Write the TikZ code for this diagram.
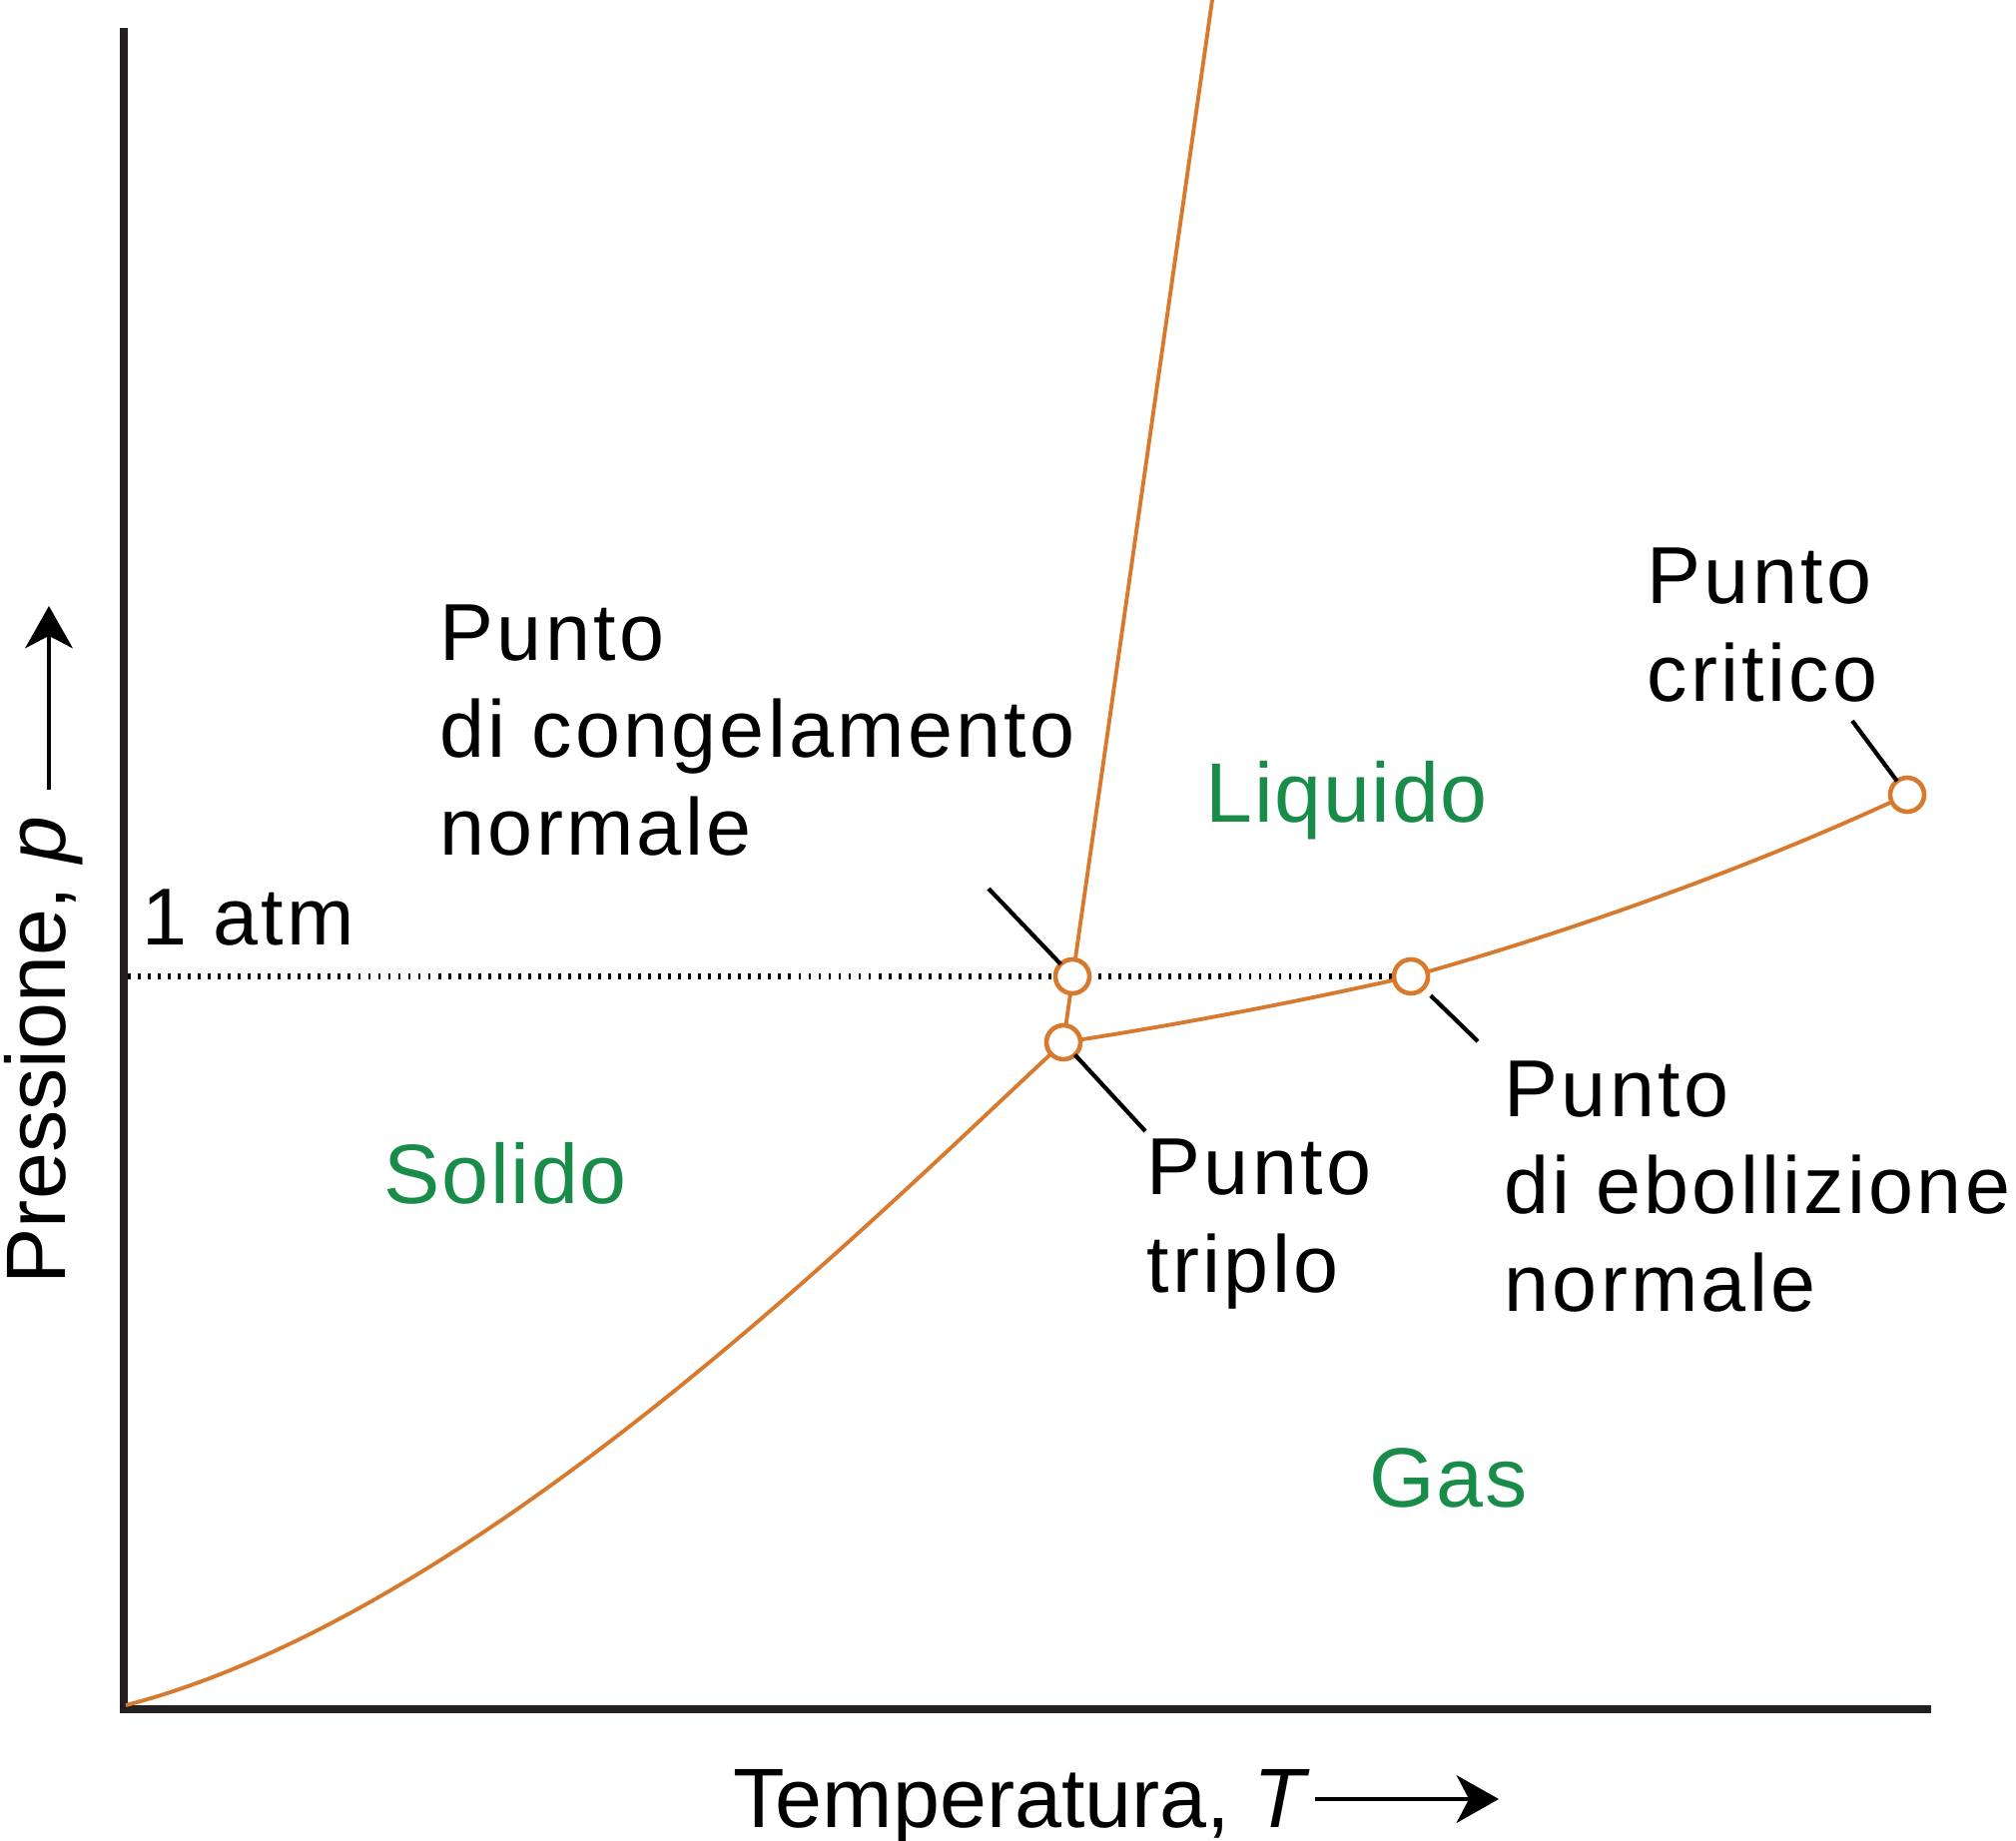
\documentclass[tikz,border=0pt]{standalone}
\usepackage{fontspec}
\setmainfont{Liberation Sans}
\newfontfamily\lblfont{Liberation Sans}[LetterSpace=4]
\newfontfamily\regfont{Liberation Sans}[LetterSpace=2]
\usetikzlibrary{arrows.meta}
\definecolor{phor}{RGB}{216,122,46}
\definecolor{phgr}{RGB}{26,140,74}
\definecolor{axk}{RGB}{35,31,32}
\begin{document}
\begin{tikzpicture}[x=0.01cm,y=-0.01cm,
  ptlab/.style={anchor=base west, align=left, inner sep=0, font=\lblfont\fontsize{23}{27.6}\selectfont},
  region/.style={anchor=base west, inner sep=0, text=phgr, font=\regfont\fontsize{24}{28}\selectfont},
  axlab/.style={anchor=base west, inner sep=0, font=\fontsize{24}{28}\selectfont},
  phcurve/.style={draw=phor, line width=1.1pt},
  phpt/.style={circle, draw=phor, fill=white, line width=1.3pt, minimum size=0.34cm, inner sep=0, outer sep=0},
  leader/.style={draw=black, line width=1.2pt},
  axisline/.style={draw=axk, line width=2.1pt},
  atmline/.style={draw=black, line width=1.7pt, dash pattern=on 0.8pt off 2.05pt},
  axarrow/.style={draw=black, line width=1.4pt, -{Stealth[length=12pt,width=13.5pt,inset=3.5pt]}}
]
\useasboundingbox (0,0) rectangle (2019,1843);

% key coordinates
\coordinate (O) at (124,1712);
\coordinate (ytop) at (124,28);
\coordinate (xend) at (1934,1712);
\coordinate (tpc) at (1065,1044);
\coordinate (fpc) at (1074,978);
\coordinate (bpc) at (1413,978);
\coordinate (cpc) at (1910,796);
\coordinate (mtop) at (1214,0);
\coordinate (sstart) at (126,1708);

% axes
\draw[axisline] (ytop) -- (O) -- (xend);

% 1 atm dotted line
\draw[atmline] (128,978) -- (bpc);

% phase boundaries
\draw[phcurve] (sstart) .. controls (484,1615) and (881,1214) .. (tpc);
\draw[phcurve] (tpc) -- (mtop);
\draw[phcurve] (tpc) .. controls (1183,1026) and (1296,1004) .. (bpc)
                     .. controls (1577,932) and (1756,868) .. (cpc);

% points
\node[phpt] (tp) at (tpc) {};
\node[phpt] (fp) at (fpc) {};
\node[phpt] (bp) at (bpc) {};
\node[phpt] (cp) at (cpc) {};

% leaders
\coordinate (lfp) at (990,890);
\coordinate (ltp) at (1147,1133);
\coordinate (lbp) at (1480,1043);
\coordinate (lcp) at (1855,722);
\draw[leader] (lfp) -- (fp);
\draw[leader] (tp) -- (ltp);
\draw[leader, shorten <=3pt] (bp) -- (lbp);
\draw[leader] (lcp) -- (cp);

% labels (anchor = baseline of last line)
\node[ptlab] (fpl) at (440,856) {Punto\\di congelamento\\normale};
\node[ptlab] (tpl) at (1148,1294) {Punto\\triplo};
\node[ptlab] (bpl) at (1506,1313) {Punto\\di ebollizione\\normale};
\node[ptlab] (cpl) at (1649,702) {Punto\\critico};
\node[ptlab] (atm) at (142,946) {1 atm};

\node[region] (liq) at (1207,823) {Liquido};
\node[region] (sol) at (384,1205) {Solido};
\node[region] (gas) at (1371,1509) {Gas};

% axis labels
\node[axlab] (tlab) at (734,1830) {Temperatura, \textit{T}};
\coordinate (ts) at (1317,1802);
\coordinate (te) at (1501,1802);
\draw[axarrow] (ts) -- (te);

\node[axlab, rotate=90] (plab) at (65,1287) {Pressione, \textit{p}};
\coordinate (ps) at (49,791);
\coordinate (pe) at (49,607);
\draw[axarrow] (ps) -- (pe);
\end{tikzpicture}
\end{document}
